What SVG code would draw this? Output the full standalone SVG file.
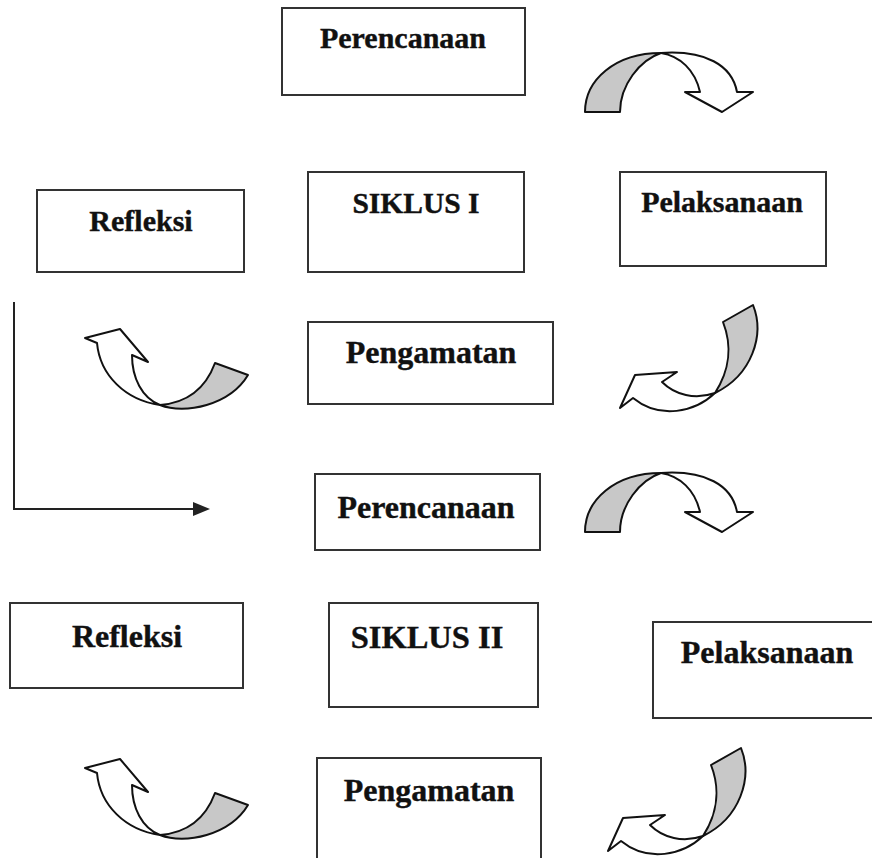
<svg xmlns="http://www.w3.org/2000/svg" width="872" height="858" viewBox="0 0 872 858">
<style>
.box{fill:#fff;stroke:#333;stroke-width:2}
.t{font-family:"Liberation Serif","Times New Roman",serif;font-weight:bold;fill:#111;stroke:#111;stroke-width:0.4;text-anchor:middle}
.g{fill:#c8c8c8;stroke:#111;stroke-width:2;stroke-linejoin:round}
.w{fill:#fff;stroke:#111;stroke-width:2;stroke-linejoin:round}
.ln{fill:none;stroke:#222;stroke-width:2}
</style>
<defs>
<g id="arrowOver">
<path class="g" d="M585,112 C585,80 615,53 661,53 C640,60 620,85 620,112 Z"/>
<path class="w" d="M661,53 C705,50 732,65 737,92 L753,92 L722,112 L685,92 L700,92 C695,70 680,56 661,53 Z"/>
</g>
<g id="arrowDown">
<path class="g" d="M715,393 C730,370 732,345 723,322 L753,305 C765,335 752,375 715,393 Z"/>
<path class="w" d="M715,393 C695,400 675,395 662,382 L677,372 L635,375 L620,408 L633,398 C660,420 695,412 715,393 Z"/>
</g>
<g id="arrowUp">
<path class="g" d="M160,405 C185,415 230,405 248,375 L215,363 C205,390 185,403 160,405 Z"/>
<path class="w" d="M160,405 C125,400 100,375 97,343 L85,338 L120,329 L148,362 L132,355 C132,378 142,398 160,405 Z"/>
</g>
</defs>

<g id="perencanaan1"><rect class="box" x="282" y="8" width="243" height="87"/><text class="t" x="403" y="48" font-size="30">Perencanaan</text></g>
<g id="refleksi1"><rect class="box" x="37" y="190" width="207" height="82"/><text class="t" x="141" y="231" font-size="30">Refleksi</text></g>
<g id="siklus1"><rect class="box" x="308" y="172" width="216" height="100"/><text class="t" x="416" y="213" font-size="29.5">SIKLUS I</text></g>
<g id="pelaksanaan1"><rect class="box" x="620" y="172" width="206" height="94"/><text class="t" x="722" y="212" font-size="30">Pelaksanaan</text></g>
<g id="pengamatan1"><rect class="box" x="308" y="322" width="245" height="82"/><text class="t" x="431" y="363" font-size="32">Pengamatan</text></g>
<g id="perencanaan2"><rect class="box" x="315" y="474" width="225" height="76"/><text class="t" x="426" y="518" font-size="32">Perencanaan</text></g>
<g id="refleksi2"><rect class="box" x="10" y="603" width="233" height="85"/><text class="t" x="127" y="647" font-size="32">Refleksi</text></g>
<g id="siklus2"><rect class="box" x="329" y="603" width="209" height="104"/><text class="t" x="427" y="648" font-size="32.5">SIKLUS II</text></g>
<g id="pelaksanaan2"><rect class="box" x="653" y="622" width="225" height="96"/><text class="t" x="767" y="663" font-size="32">Pelaksanaan</text></g>
<g id="pengamatan2"><rect class="box" x="317" y="758" width="224" height="106"/><text class="t" x="429" y="801" font-size="32">Pengamatan</text></g>

<g id="connectors">
<use href="#arrowOver"/>
<use href="#arrowDown"/>
<use href="#arrowUp"/>
<use href="#arrowOver" transform="translate(0,420)"/>
<use href="#arrowDown" transform="translate(-12,443)"/>
<use href="#arrowUp" transform="translate(0,430)"/>
<polyline class="ln" points="14,302 14,509 196,509"/>
<polygon points="193,502 210,509 193,516" fill="#222"/>
</g>
</svg>
